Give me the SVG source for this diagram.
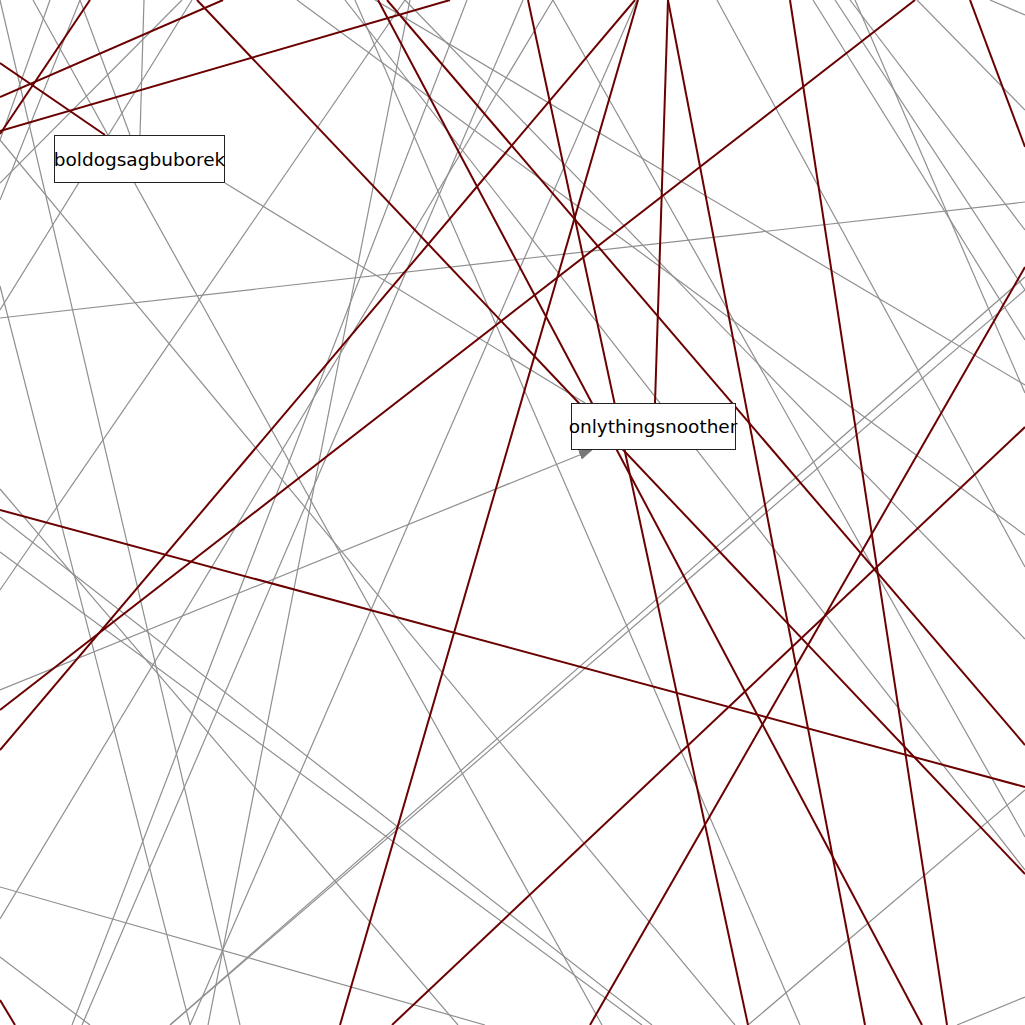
<svg xmlns="http://www.w3.org/2000/svg" width="1025" height="1025" viewBox="0 0 1025 1025">
<defs>
<style>
.g{stroke:#8f8f8f;stroke-width:1.2;fill:none}
.r{stroke:#6b0000;stroke-width:2;fill:none}
.n rect{fill:#fff;stroke:#222;stroke-width:1}
.n text{font-family:"DejaVu Sans",Verdana,sans-serif;font-size:18.5px;fill:#000;text-anchor:middle}
</style>
<marker id="ah" markerWidth="14" markerHeight="10" refX="13" refY="5" orient="auto" markerUnits="userSpaceOnUse"><path d="M0,0 L14,5 L0,10 z" fill="#777"/></marker>
</defs>
<rect width="1025" height="1025" fill="#fff"/>
<g id="connectors">
<line class="g" x1="0" y1="318" x2="1025" y2="202"/>
<line class="g" x1="0" y1="690" x2="592" y2="450" marker-end="url(#ah)"/>
<line class="g" x1="0" y1="887" x2="485" y2="1025"/>
<line class="g" x1="170" y1="1025" x2="1025" y2="277"/>
<line class="g" x1="170" y1="1025" x2="1025" y2="290"/>
<line class="g" x1="144" y1="0" x2="140" y2="135"/>
<line class="g" x1="225" y1="183" x2="585" y2="403"/>
<line class="g" x1="717" y1="0" x2="1025" y2="567"/>
<line class="g" x1="0" y1="0" x2="240" y2="1025"/>
<line class="g" x1="33" y1="0" x2="602" y2="1025"/>
<line class="g" x1="50" y1="0" x2="0" y2="140"/>
<line class="g" x1="80" y1="0" x2="130" y2="135"/>
<line class="g" x1="80" y1="0" x2="0" y2="200"/>
<line class="g" x1="182" y1="0" x2="0" y2="183"/>
<line class="g" x1="192" y1="0" x2="0" y2="310"/>
<line class="g" x1="297" y1="0" x2="1025" y2="535"/>
<line class="g" x1="345" y1="0" x2="1025" y2="870"/>
<line class="g" x1="405" y1="0" x2="0" y2="590"/>
<line class="g" x1="410" y1="0" x2="208" y2="1025"/>
<line class="g" x1="467" y1="0" x2="72" y2="1025"/>
<line class="g" x1="553" y1="0" x2="0" y2="919"/>
<line class="g" x1="553" y1="0" x2="1025" y2="837"/>
<line class="g" x1="637" y1="0" x2="190" y2="1025"/>
<line class="g" x1="523" y1="0" x2="82" y2="1025"/>
<line class="g" x1="375" y1="0" x2="1025" y2="385"/>
<line class="g" x1="813" y1="0" x2="1025" y2="340"/>
<line class="g" x1="835" y1="0" x2="1025" y2="290"/>
<line class="g" x1="850" y1="0" x2="1025" y2="230"/>
<line class="g" x1="917" y1="0" x2="1025" y2="110"/>
<line class="g" x1="990" y1="0" x2="1025" y2="15"/>
<line class="g" x1="0" y1="517" x2="652" y2="1025"/>
<line class="g" x1="0" y1="552" x2="642" y2="1025"/>
<line class="g" x1="0" y1="489" x2="458" y2="1025"/>
<line class="g" x1="0" y1="957" x2="90" y2="1025"/>
<line class="g" x1="0" y1="140" x2="735" y2="1025"/>
<line class="g" x1="355" y1="0" x2="800" y2="1025"/>
<line class="g" x1="748" y1="1025" x2="1025" y2="790"/>
<line class="g" x1="957" y1="1025" x2="1025" y2="997"/>
<line class="g" x1="405" y1="0" x2="1025" y2="639"/>
<line class="g" x1="0" y1="286" x2="190" y2="1025"/>
<line class="g" x1="855" y1="0" x2="1025" y2="393"/>
<line class="r" x1="0" y1="97" x2="223" y2="0"/>
<line class="r" x1="0" y1="134" x2="90" y2="0"/>
<line class="r" x1="0" y1="63" x2="105" y2="135"/>
<line class="r" x1="0" y1="131" x2="450" y2="0"/>
<line class="r" x1="197" y1="0" x2="1025" y2="874"/>
<line class="r" x1="387" y1="0" x2="1025" y2="745"/>
<line class="r" x1="378" y1="0" x2="922" y2="1025"/>
<line class="r" x1="528" y1="0" x2="748" y2="1025"/>
<line class="r" x1="0" y1="750" x2="635" y2="0"/>
<line class="r" x1="638" y1="0" x2="340" y2="1025"/>
<line class="r" x1="668" y1="0" x2="655" y2="403"/>
<line class="r" x1="668" y1="0" x2="865" y2="1025"/>
<line class="r" x1="790" y1="0" x2="947" y2="1025"/>
<line class="r" x1="0" y1="710" x2="915" y2="0"/>
<line class="r" x1="970" y1="0" x2="1025" y2="147"/>
<line class="r" x1="0" y1="510" x2="1025" y2="787"/>
<line class="r" x1="392" y1="1025" x2="1025" y2="427"/>
<line class="r" x1="590" y1="1025" x2="1025" y2="267"/>
<line class="r" x1="0" y1="1000" x2="15" y2="1025"/>
</g>
<g id="node-boldogsagbuborek" class="n">
<rect x="54.5" y="135.5" width="170" height="47"/>
<text x="139.5" y="165.5">boldogsagbuborek</text>
</g>
<g id="node-onlythingsnoother" class="n">
<rect x="571.5" y="403.5" width="164" height="46"/>
<text x="653" y="432.5">onlythingsnoother</text>
</g>
</svg>
